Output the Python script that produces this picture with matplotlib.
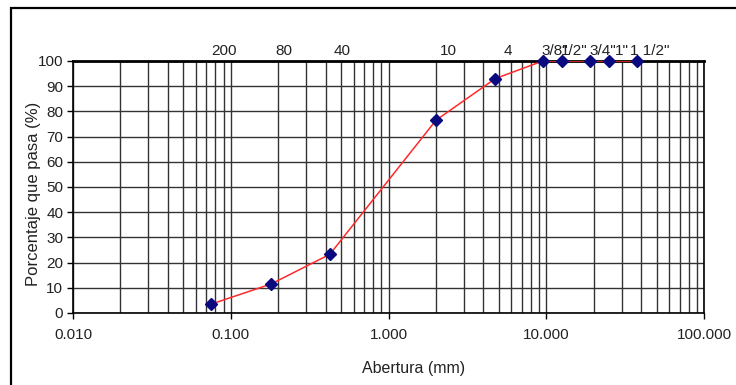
import matplotlib
matplotlib.use("Agg")
import matplotlib.pyplot as plt
from matplotlib.patches import Rectangle
from matplotlib.ticker import FixedLocator, FixedFormatter, LogLocator, NullFormatter

# Granulometric curve: sieve opening (mm) vs percent passing
sieves = ["200", "80", "40", "10", "4", '3/8"', '1/2"', '3/4"', '1"', '1 1/2"']
opening_mm = [0.075, 0.18, 0.425, 2.0, 4.75, 9.5, 12.5, 19.0, 25.0, 37.5]
passing = [3.5, 11.5, 23.3, 76.5, 93.0, 100, 100, 100, 100, 100]

x_ticks = [0.01, 0.1, 1, 10, 100]
x_tick_labels = ["0.010", "0.100", "1.000", "10.000", "100.000"]
y_ticks = list(range(0, 101, 10))

plt.rcParams["font.family"] = ["Liberation Sans", "DejaVu Sans"]
W, H = 736, 385
fig = plt.figure(figsize=(W / 100, H / 100), dpi=100)
fig.patch.set_facecolor("white")

# chart-area frame (cut off at right / bottom like the source)
fig.add_artist(Rectangle((11 / W, -0.1), 1.2, 1.1 - 8 / H, transform=fig.transFigure,
                         fill=False, edgecolor="black", linewidth=1.6))

ax = fig.add_axes([73 / W, 1 - 313 / H, (704 - 73) / W, (313 - 61) / H])
ax.set_xscale("log")
ax.set_xlim(0.01, 100)
ax.set_ylim(0, 100)

ax.xaxis.set_major_locator(FixedLocator(x_ticks))
ax.xaxis.set_major_formatter(FixedFormatter(x_tick_labels))
ax.xaxis.set_minor_locator(LogLocator(base=10, subs=range(2, 10)))
ax.xaxis.set_minor_formatter(NullFormatter())
ax.set_yticks(y_ticks)

ax.grid(True, which="both", axis="x", color="#333333", linewidth=1.0)
ax.grid(True, which="major", axis="y", color="#333333", linewidth=1.0)
ax.set_axisbelow(True)

ax.tick_params(axis="both", which="major", direction="out", length=4, width=1,
               labelsize=11, colors="black", labelcolor="#222222")
ax.tick_params(axis="x", which="major", pad=7)
ax.tick_params(axis="y", which="major", pad=3)
ax.tick_params(axis="x", which="minor", length=0)

for side in ["left", "bottom", "right"]:
    ax.spines[side].set_color("black")
    ax.spines[side].set_linewidth(1.2)
ax.spines["top"].set_color("black")
ax.spines["top"].set_linewidth(2)

ax.plot(opening_mm, passing, color="#ff2a2a", linewidth=1.1, zorder=3)
ax.plot(opening_mm, passing, linestyle="none", marker="D", markersize=6.5,
        color="#0a0a80", zorder=4, clip_on=False)

for name, xv in zip(sieves, opening_mm):
    ax.annotate(name, xy=(xv, 100), xytext=(9, 2), textcoords="offset points",
                ha="center", va="bottom", fontsize=11, color="#222222",
                annotation_clip=False)

fig.text(414 / W, 1 - 368 / H, "Abertura (mm)", ha="center", va="center",
         fontsize=11.5, color="#222222")
fig.text(34 / W, 1 - 194 / H, "Porcentaje que pasa (%)", ha="center", va="center",
         rotation=90, fontsize=12, color="#222222")

fig.savefig("out.png", dpi=100)
